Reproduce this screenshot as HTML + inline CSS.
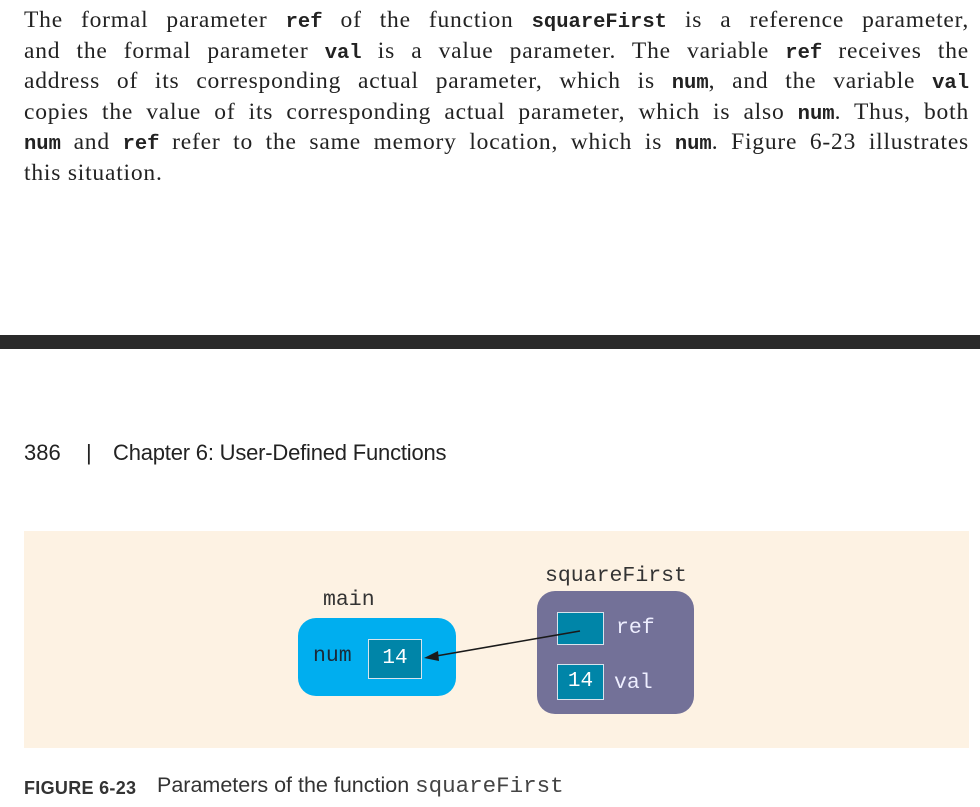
<!DOCTYPE html>
<html><head><meta charset="utf-8"><style>
body{margin:0;width:980px;height:807px;background:#fff;position:relative;overflow:hidden;font-family:"Liberation Serif",serif;}
.para{position:absolute;left:24px;top:5px;width:945px;font-size:23.5px;letter-spacing:0.8px;line-height:30.4px;color:#222;}
.para div{text-align:justify;text-align-last:justify;white-space:nowrap;height:30.5px;overflow:visible;}
.para div.last{text-align-last:left;}
.para code{font-family:"Liberation Mono",monospace;font-weight:bold;font-size:20.5px;letter-spacing:0;line-height:1;}
.bar{position:absolute;left:0;top:335px;width:980px;height:14px;background:#2a2a2a;}
.hdr{position:absolute;top:440px;font-family:"Liberation Sans",sans-serif;font-size:22px;color:#222;}
.fig{position:absolute;left:24px;top:531px;width:945px;height:217px;background:#fdf2e3;}
.mono{font-family:"Liberation Mono",monospace;position:absolute;font-size:21.5px;}
.box{position:absolute;background:#0085a8;border:1.5px solid #d8e4ec;box-sizing:border-box;color:#fff;text-align:center;}
.cap{position:absolute;top:773px;font-family:"Liberation Sans",sans-serif;font-size:21.5px;color:#333;}
</style></head><body>
<div class="para">
<div style="white-space:normal">The formal parameter <code>ref</code> of the function <code>squareFirst</code> is a reference parameter,</div>
<div style="white-space:normal">and the formal parameter <code>val</code> is a value parameter. The variable <code>ref</code> receives the</div>
<div style="white-space:normal">address of its corresponding actual parameter, which is <code>num</code>, and the variable <code>val</code></div>
<div style="white-space:normal">copies the value of its corresponding actual parameter, which is also <code>num</code>. Thus, both</div>
<div style="white-space:normal"><code>num</code> and <code>ref</code> refer to the same memory location, which is <code>num</code>. Figure 6-23 illustrates</div>
<div class="last">this situation.</div>
</div>
<div class="bar"></div>
<div class="hdr" style="left:24px">386</div>
<div class="hdr" style="left:86px">|</div>
<div class="hdr" style="left:113px;letter-spacing:-0.2px">Chapter 6: User-Defined Functions</div>
<div class="fig"></div>
<div class="mono" style="left:323px;top:588px;color:#333">main</div>
<div style="position:absolute;left:298px;top:618px;width:158px;height:78px;background:#00aeef;border-radius:18px"></div>
<div class="mono" style="left:313px;top:644px;color:#1a2a3a">num</div>
<div class="box" style="left:368px;top:639px;width:54px;height:40px;line-height:38px;font-family:'Liberation Mono',monospace;font-size:21px">14</div>
<div class="mono" style="left:545px;top:564px;color:#333">squareFirst</div>
<div style="position:absolute;left:537px;top:591px;width:157px;height:123px;background:#737198;border-radius:18px"></div>
<div class="box" style="left:557px;top:612px;width:47px;height:33px"></div>
<div class="mono" style="left:616px;top:616px;color:#eef">ref</div>
<div class="box" style="left:557px;top:664px;width:47px;height:36px;line-height:34px;font-family:'Liberation Mono',monospace;font-size:21px">14</div>
<div class="mono" style="left:614px;top:671px;color:#eef">val</div>
<svg style="position:absolute;left:0;top:0" width="980" height="807">
<line x1="580" y1="631" x2="436" y2="656" stroke="#1a1a1a" stroke-width="1.6"/>
<polygon points="424,658 438,651 439,661" fill="#1a1a1a"/>
</svg>
<div class="cap" style="left:24px;top:775px"><b style="font-size:18px;letter-spacing:0.3px">FIGURE 6-23</b></div>
<div class="cap" style="left:157px">Parameters of the function <span style="font-family:'Liberation Mono',monospace;font-size:22.5px;color:#444">squareFirst</span></div>
</body></html>
